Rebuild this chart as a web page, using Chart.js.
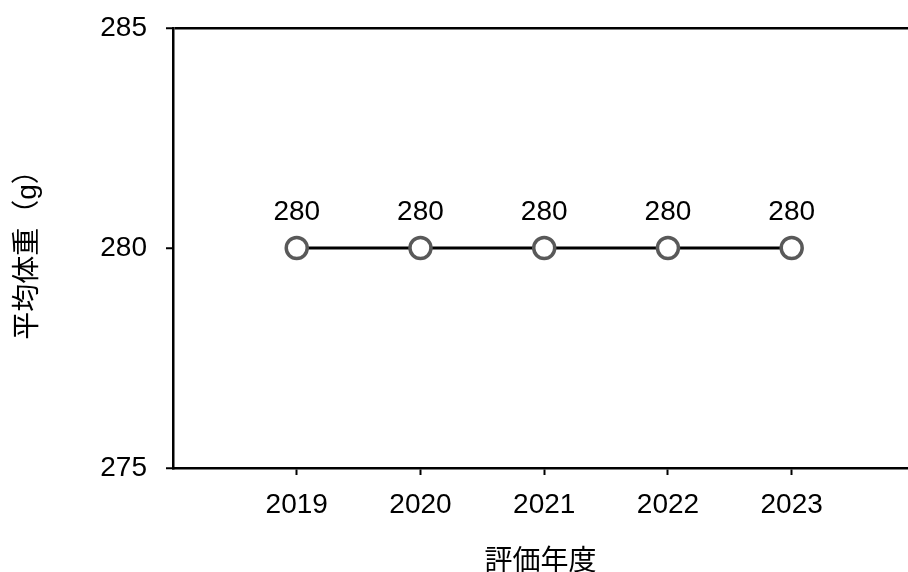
<!DOCTYPE html>
<html lang="ja">
<head>
    <meta charset="UTF-8" />
    <title>平均体重</title>
    <script src="https://cdn.jsdelivr.net/npm/chart.js@4"></script>
    <style>
        html, body { margin: 0; padding: 0; background: #fff; overflow: hidden; }
        #wrap { width: 908px; height: 572px; position: relative; }
    </style>
</head>
<body>
    <div id="wrap"><canvas id="weightChart"></canvas></div>
    <script>
        // データ
        const years = [2019, 2020, 2021, 2022, 2023];
        const avgWeight = [280, 280, 280, 280, 280];
        const yTicks = [275, 280, 285];

        const FONT = "'Liberation Sans', Arial, 'Noto Sans CJK JP', sans-serif";

        // 点の上に値を描くプラグイン
        const valueLabels = {
            id: 'valueLabels',
            afterDatasetsDraw(chart) {
                const ctx = chart.ctx;
                const meta = chart.getDatasetMeta(0);
                ctx.save();
                ctx.font = `28px ${FONT}`;
                ctx.fillStyle = '#000';
                ctx.textAlign = 'center';
                ctx.textBaseline = 'middle';
                meta.data.forEach((pt, i) => {
                    ctx.fillText(String(avgWeight[i]), pt.x, pt.y - 36);
                });
                ctx.restore();
            }
        };

        const ctx = document.getElementById('weightChart').getContext('2d');
        new Chart(ctx, {
            type: 'line',
            data: {
                datasets: [{
                    label: '平均体重',
                    data: years.map((y, i) => ({ x: y, y: avgWeight[i] })),
                    borderColor: '#000',
                    borderWidth: 3,
                    pointRadius: 10.5,
                    pointBorderWidth: 3.5,
                    pointBorderColor: '#595959',
                    pointBackgroundColor: '#fff',
                    tension: 0
                }]
            },
            options: {
                responsive: true,
                maintainAspectRatio: false,
                animation: false,
                layout: { autoPadding: false, padding: { top: 28, right: 0, bottom: 0, left: 0 } },
                plugins: { legend: { display: false }, tooltip: { enabled: false } },
                scales: {
                    x: {
                        type: 'linear',
                        min: 2018,
                        max: 2023.94,
                        afterBuildTicks: s => { s.ticks = years.map(v => ({ value: v })); },
                        afterFit: s => { s.height = 104; s.paddingLeft = 0; s.paddingRight = 0; },
                        border: { color: '#000', width: 2.5 },
                        grid: { drawOnChartArea: false, tickLength: 7, tickColor: '#000', tickWidth: 2 },
                        ticks: { color: '#000', font: { family: FONT, size: 28 }, padding: 13, callback: v => String(v) },
                        title: { display: true, text: '評価年度', color: '#000', font: { family: FONT, size: 28, lineHeight: 1 }, padding: { top: 0, bottom: -4 } }
                    },
                    y: {
                        min: 275,
                        max: 285,
                        afterBuildTicks: s => { s.ticks = yTicks.map(v => ({ value: v })); },
                        afterFit: s => { s.width = 173; s.paddingTop = 0; s.paddingBottom = 0; },
                        border: { color: '#000', width: 2.5 },
                        grid: {
                            drawOnChartArea: true,
                            color: c => (c.tick && c.tick.value === 285 ? '#000' : 'rgba(0,0,0,0)'),
                            lineWidth: 2.5,
                            tickLength: 7,
                            tickColor: '#000',
                            tickWidth: 2
                        },
                        ticks: { color: '#000', font: { family: FONT, size: 28 }, padding: 19 },
                        title: { display: true, text: '平均体重（g）', color: '#000', font: { family: FONT, size: 28, lineHeight: 1 }, padding: { top: 14, bottom: 0 } }
                    }
                }
            },
            plugins: [valueLabels]
        });
    </script>
</body>
</html>
